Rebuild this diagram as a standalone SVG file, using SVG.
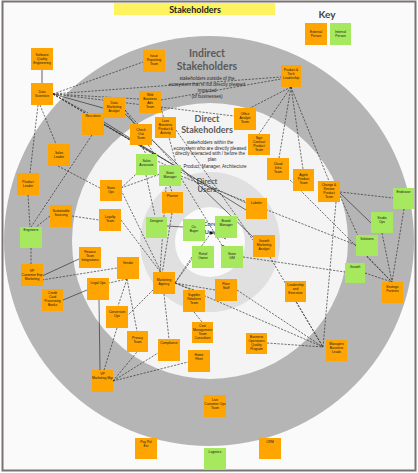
<svg xmlns="http://www.w3.org/2000/svg" width="418" height="473" viewBox="0 0 418 473">
<style>
.o{fill:#ffa502}
.g{fill:#a6e85e}
.t{font-family:'Liberation Sans',Arial,sans-serif;font-size:3.3px;text-anchor:middle;fill:#151515}
.d{stroke:#2a2a2a;stroke-width:0.65;stroke-dasharray:2.2 1.3;fill:none}
.s{stroke:#2a2a2a;stroke-width:0.65;fill:none}
.h{font-family:'Lato','Liberation Sans',sans-serif;font-weight:bold;fill:#5a5a5a;text-anchor:middle}
.p{font-family:'Liberation Sans',Arial,sans-serif;font-size:4.6px;fill:#2a2a2a;text-anchor:middle}
</style>
<!-- canvas and frame -->
<rect x="2.5" y="1.5" width="413" height="469" fill="#fafafa" stroke="#7b7373" stroke-width="2"/>
<!-- stakeholder rings -->
<circle cx="209" cy="241" r="205" fill="#b5b5b5"/>
<circle cx="210" cy="241" r="138" fill="#f4f4f4"/>
<circle cx="210" cy="242" r="70" fill="#e0e0e0"/>
<circle cx="210" cy="242" r="35" fill="#fafafa"/>
<!-- title and key -->
<rect x="114" y="3" width="161" height="12" fill="#fdf35e"/>
<text x="195" y="12.5" font-family="'Lato','Liberation Sans',sans-serif" font-weight="bold" font-size="9" fill="#222" text-anchor="middle">Stakeholders</text>
<text x="327" y="18" class="h" font-size="10" style="fill:#444">Key</text>
<g id="key-external"><rect class="o" x="305" y="23" width="22" height="22"/><text class="t"><tspan x="316" y="33">External</tspan><tspan x="316" y="37">Person</tspan></text></g>
<g id="key-internal"><rect class="g" x="330" y="23" width="21" height="22"/><text class="t"><tspan x="340.5" y="33">Internal</tspan><tspan x="340.5" y="37">Person</tspan></text></g>
<!-- ring labels -->
<text class="h" font-size="10.5" x="207" y="57">Indirect</text>
<text class="h" font-size="10.5" x="207" y="70">Stakeholders</text>
<text class="p"><tspan x="207" y="80">stakeholders outside of the</tspan><tspan x="207" y="86">ecosystem that is not directly pleased</tspan><tspan x="207" y="92">impacted</tspan><tspan x="207" y="98">(of businesses)</tspan></text>
<text class="h" font-size="9" x="207" y="122">Direct</text>
<text class="h" font-size="9" x="207" y="133">Stakeholders</text>
<text class="p"><tspan x="210" y="144">stakeholders within the</tspan><tspan x="210" y="149.5">ecosystem who are directly pleased</tspan><tspan x="210" y="155">directly interacted with / before the</tspan><tspan x="212" y="161">plan</tspan><tspan x="215" y="168">Product, Manager, Architecture</tspan></text>
<text class="h" font-size="7.5" x="207" y="184">Direct</text>
<text class="h" font-size="7.5" x="207" y="192">Users</text>
<text class="h" font-size="6" x="210" y="226">Core</text>
<text class="h" font-size="6" x="212" y="234">Users</text>
<!-- connectors -->
<g id="connectors">
<line x1="42" y1="70" x2="42" y2="83" stroke="#7a7a7a" stroke-width="1.2"/>
<path class="s" d="M53,94 L103,108 M42,276 L79,259 M63,300 L87,290 M99,300 L100,370 M340,193 L371,223 M167,226 L183,227 M104,122 L246,210 M125,114 L253,237"/>
<path class="d" d="M53,94 L143,62 M53,94 L139,99 M53,94 L234,116 M53,94 L281,77 M53,94 L88,113 M40,105 L56,144 M38,105 L30,173 M53,94 L155,155 M53,94 L177,167
M161,100 L281,79 M161,108 L177,167 M125,110 L155,155 M125,110 L177,167
M92,135 L31,227 M103,124 L155,155 M103,124 L177,167
M58,166 L100,188 M28,195 L30,227 M50,216 L36,227 M72,216 L99,220
M121,188 L155,157 M121,188 L177,168 M121,190 L162,274 M121,220 L162,274
M31,248 L31,264 M42,280 L117,268
M127,279 L109,283 M127,279 L118,306 M127,279 L137,331 M117,328 L104,370
M113,381 L137,352 M113,381 L158,353 M113,381 L188,362
M141,145 L146,154 M146,175 L155,216 M170,186 L172,192 M172,213 L162,274 M166,187 L160,272
M192,257 L175,283 M215,290 L175,283 M194,290 L175,283 M194,312 L202,322 M175,283 L211,233 M211,233 L226,239
M175,283 L323,347 M153,290 L128,315 M164,294 L169,339
M237,290 L323,347 M267,343 L323,347 M296,302 L323,347 M270,257 L323,347
M243,257 L345,272 M181,178 L223,247 M155,160 L246,203 M181,176 L356,245 M176,130 L253,240
M291,87 L250,108 M291,87 L259,134 M291,87 L279,158 M291,87 L303,169 M291,87 L329,181
M340,192 L393,198 M340,196 L358,236 M336,202 L323,347
M404,209 L392,282 M382,233 L392,282 M367,256 L392,282 M365,273 L392,282 M290,180 L392,282"/>
<circle cx="155" cy="155" r="1.8" fill="#111"/>
<circle cx="177" cy="167" r="1.8" fill="#111"/>
<circle cx="162" cy="274" r="1.8" fill="#111"/>
<circle cx="223" cy="247" r="1.8" fill="#111"/>
<circle cx="211" cy="233" r="1.4" fill="#111"/>
</g>
<!-- stakeholder nodes -->
<g id="nodes">
<g id="n1"><rect class="o" x="31" y="48" width="22" height="22"/><text class="t"><tspan x="42" y="56">Software</tspan><tspan x="42" y="60">Quality</tspan><tspan x="42" y="64">Engineering</tspan></text></g>
<g id="n2"><rect class="o" x="31" y="83" width="22" height="22"/><text class="t"><tspan x="42" y="93">Data</tspan><tspan x="42" y="97">Scientists</tspan></text></g>
<g id="n3"><rect class="o" x="103" y="97" width="22" height="21"/><text class="t"><tspan x="114" y="104">Data</tspan><tspan x="114" y="108">Marketing</tspan><tspan x="114" y="112">Analyst</tspan></text></g>
<g id="n4"><rect class="o" x="82" y="113" width="22" height="22"/><text class="t"><tspan x="93" y="117">Recruiters</tspan></text></g>
<g id="n5"><rect class="o" x="48" y="144" width="22" height="22"/><text class="t"><tspan x="59" y="154">Sales</tspan><tspan x="59" y="158">Leader</tspan></text></g>
<g id="n6"><rect class="o" x="17" y="173" width="22" height="22"/><text class="t"><tspan x="28" y="183">Product</tspan><tspan x="28" y="187">Leader</tspan></text></g>
<g id="n7"><rect class="o" x="100" y="180" width="22" height="21"/><text class="t"><tspan x="111" y="189">Store</tspan><tspan x="111" y="193">Ops</tspan></text></g>
<g id="n8"><rect class="o" x="50" y="205" width="22" height="22"/><text class="t"><tspan x="61" y="212">Sustainable</tspan><tspan x="61" y="216">Sourcing</tspan></text></g>
<g id="n9"><rect class="o" x="99" y="209" width="22" height="22"/><text class="t"><tspan x="110" y="218">Loyalty</tspan><tspan x="110" y="222">Team</tspan></text></g>
<g id="n10"><rect class="g" x="20" y="227" width="22" height="21"/><text class="t"><tspan x="31" y="231">Engineers</tspan></text></g>
<g id="n11"><rect class="o" x="21" y="264" width="22" height="22"/><text class="t"><tspan x="32" y="272">VP</tspan><tspan x="32" y="276">Customer Exp</tspan><tspan x="32" y="280">Marketing</tspan></text></g>
<g id="n12"><rect class="o" x="79" y="247" width="22" height="21"/><text class="t"><tspan x="90" y="253">Finance</tspan><tspan x="90" y="257">Team</tspan><tspan x="90" y="261">Integrations</tspan></text></g>
<g id="n13"><rect class="o" x="117" y="257" width="22" height="22"/><text class="t"><tspan x="128" y="264">Vendor</tspan></text></g>
<g id="n14"><rect class="o" x="87" y="278" width="22" height="22"/><text class="t"><tspan x="98" y="284">Legal Ops</tspan></text></g>
<g id="n15"><rect class="o" x="42" y="289" width="21" height="22"/><text class="t"><tspan x="52.5" y="294">Credit</tspan><tspan x="52.5" y="298">Card</tspan><tspan x="52.5" y="302">Processing</tspan><tspan x="52.5" y="306">Banks</tspan></text></g>
<g id="n16"><rect class="o" x="106" y="306" width="22" height="22"/><text class="t"><tspan x="117" y="313">Conversion</tspan><tspan x="117" y="317">Ops</tspan></text></g>
<g id="n17"><rect class="o" x="127" y="331" width="21" height="21"/><text class="t"><tspan x="137.5" y="339">Privacy</tspan><tspan x="137.5" y="343">Team</tspan></text></g>
<g id="n18"><rect class="o" x="92" y="370" width="21" height="22"/><text class="t"><tspan x="102.5" y="375">VP</tspan><tspan x="102.5" y="379">Marketing Mgr</tspan></text></g>
<g id="n19"><rect class="o" x="135" y="438" width="22" height="21"/><text class="t"><tspan x="146" y="443">Pay Pal</tspan><tspan x="146" y="447">Ext</tspan></text></g>
<g id="n20"><rect class="g" x="204" y="448" width="22" height="22"/><text class="t"><tspan x="215" y="453">Logistics</tspan></text></g>
<g id="n21"><rect class="o" x="259" y="438" width="22" height="21"/><text class="t"><tspan x="270" y="443">CRM</tspan></text></g>
<g id="n22"><rect class="o" x="204" y="395" width="22" height="22"/><text class="t"><tspan x="215" y="401">Live</tspan><tspan x="215" y="405">Customer Ops</tspan><tspan x="215" y="409">Team</tspan></text></g>
<g id="n23"><rect class="o" x="188" y="350" width="22" height="22"/><text class="t"><tspan x="199" y="356">Home</tspan><tspan x="199" y="360">Fleet</tspan></text></g>
<g id="n24"><rect class="o" x="158" y="339" width="22" height="22"/><text class="t"><tspan x="169" y="344">Compliance</tspan></text></g>
<g id="n25"><rect class="o" x="192" y="322" width="21" height="21"/><text class="t"><tspan x="202.5" y="327">Cost</tspan><tspan x="202.5" y="331">Management</tspan><tspan x="202.5" y="335">Team</tspan><tspan x="202.5" y="339">Consultant</tspan></text></g>
<g id="n26"><rect class="o" x="183" y="290" width="22" height="22"/><text class="t"><tspan x="194" y="296">Supplier</tspan><tspan x="194" y="300">Relations</tspan><tspan x="194" y="304">Team</tspan></text></g>
<g id="n27"><rect class="o" x="215" y="279" width="22" height="22"/><text class="t"><tspan x="226" y="285">Floor</tspan><tspan x="226" y="289">Staff</tspan></text></g>
<g id="n28"><rect class="o" x="153" y="272" width="22" height="22"/><text class="t"><tspan x="164" y="281">Marketing</tspan><tspan x="164" y="285">Agency</tspan></text></g>
<g id="n29"><rect class="g" x="192" y="246" width="22" height="22"/><text class="t"><tspan x="203" y="255">Retail</tspan><tspan x="203" y="259">Owner</tspan></text></g>
<g id="n30"><rect class="g" x="221" y="246" width="22" height="22"/><text class="t"><tspan x="232" y="255">Store</tspan><tspan x="232" y="259">GM</tspan></text></g>
<g id="n31"><rect class="o" x="253" y="235" width="22" height="22"/><text class="t"><tspan x="264" y="242">Growth</tspan><tspan x="264" y="246">Marketing</tspan><tspan x="264" y="250">Analyst</tspan></text></g>
<g id="n32"><rect class="o" x="246" y="333" width="21" height="21"/><text class="t"><tspan x="256.5" y="338">Business</tspan><tspan x="256.5" y="342">Operations</tspan><tspan x="256.5" y="346">Quality</tspan><tspan x="256.5" y="350">Program</tspan></text></g>
<g id="n33"><rect class="o" x="382" y="282" width="21" height="21"/><text class="t"><tspan x="392.5" y="288">Strategic</tspan><tspan x="392.5" y="292">Partners</tspan></text></g>
<g id="n34"><rect class="g" x="345" y="263" width="20" height="20"/><text class="t"><tspan x="355" y="268">Growth</tspan></text></g>
<g id="n35"><rect class="g" x="356" y="235" width="22" height="21"/><text class="t"><tspan x="367" y="240">Solutions</tspan></text></g>
<g id="n36"><rect class="o" x="285" y="281" width="21" height="21"/><text class="t"><tspan x="295.5" y="286">Leadership</tspan><tspan x="295.5" y="290">and</tspan><tspan x="295.5" y="294">Executive</tspan></text></g>
<g id="n37"><rect class="o" x="326" y="340" width="21" height="21"/><text class="t"><tspan x="336.5" y="345">Managers</tspan><tspan x="336.5" y="349">Business</tspan><tspan x="336.5" y="353">Leads</tspan></text></g>
<g id="n38"><rect class="g" x="393" y="188" width="21" height="21"/><text class="t"><tspan x="403.5" y="193">Endeavor</tspan></text></g>
<g id="n39"><rect class="g" x="371" y="212" width="22" height="21"/><text class="t"><tspan x="382" y="219">Studio</tspan><tspan x="382" y="223">Ops</tspan></text></g>
<g id="n40"><rect class="o" x="318" y="181" width="22" height="21"/><text class="t"><tspan x="329" y="186">Change &amp;</tspan><tspan x="329" y="190">Review</tspan><tspan x="329" y="194">Product</tspan><tspan x="329" y="198">Team</tspan></text></g>
<g id="n41"><rect class="o" x="293" y="169" width="21" height="22"/><text class="t"><tspan x="303.5" y="176">Apple</tspan><tspan x="303.5" y="180">Product</tspan><tspan x="303.5" y="184">Team</tspan></text></g>
<g id="n42"><rect class="o" x="267" y="158" width="22" height="22"/><text class="t"><tspan x="278" y="165">Cloud</tspan><tspan x="278" y="169">Infra</tspan><tspan x="278" y="173">Team</tspan></text></g>
<g id="n43"><rect class="o" x="248" y="134" width="22" height="21"/><text class="t"><tspan x="259" y="139">Sign</tspan><tspan x="259" y="143">Contract</tspan><tspan x="259" y="147">Product</tspan><tspan x="259" y="151">Team</tspan></text></g>
<g id="n44"><rect class="o" x="234" y="108" width="22" height="22"/><text class="t"><tspan x="245" y="115">Office</tspan><tspan x="245" y="119">Analyst</tspan><tspan x="245" y="123">Team</tspan></text></g>
<g id="n45"><rect class="o" x="143" y="50" width="22" height="22"/><text class="t"><tspan x="154" y="57">Issue</tspan><tspan x="154" y="61">Reporting</tspan><tspan x="154" y="65">Team</tspan></text></g>
<g id="n46"><rect class="o" x="139" y="91" width="22" height="22"/><text class="t"><tspan x="150" y="96">Web</tspan><tspan x="150" y="100">Business</tspan><tspan x="150" y="104">Ads</tspan><tspan x="150" y="108">Team</tspan></text></g>
<g id="n47"><rect class="o" x="155" y="117" width="21" height="21"/><text class="t"><tspan x="165.5" y="122">Loss</tspan><tspan x="165.5" y="126">Business</tspan><tspan x="165.5" y="130">Product &amp;</tspan><tspan x="165.5" y="134">Activity</tspan></text></g>
<g id="n48"><rect class="o" x="130" y="124" width="22" height="21"/><text class="t"><tspan x="141" y="131">Check</tspan><tspan x="141" y="135">Out</tspan><tspan x="141" y="139">Team</tspan></text></g>
<g id="n49"><rect class="g" x="136" y="154" width="21" height="21"/><text class="t"><tspan x="146.5" y="162">Sales</tspan><tspan x="146.5" y="166">Associate</tspan></text></g>
<g id="n50"><rect class="g" x="159" y="165" width="22" height="21"/><text class="t"><tspan x="170" y="174">Store</tspan><tspan x="170" y="178">Manager</tspan></text></g>
<g id="n51"><rect class="o" x="162" y="192" width="21" height="21"/><text class="t"><tspan x="172.5" y="197">Planner</tspan></text></g>
<g id="n52"><rect class="g" x="146" y="217" width="21" height="21"/><text class="t"><tspan x="156.5" y="222">Designer</tspan></text></g>
<g id="n53"><rect class="g" x="183" y="219" width="22" height="22"/><text class="t"><tspan x="194" y="228">Co.</tspan><tspan x="194" y="232">Buyer</tspan></text></g>
<g id="n54"><rect class="g" x="215" y="216" width="22" height="22"/><text class="t"><tspan x="226" y="222">Brand</tspan><tspan x="226" y="226">Manager</tspan></text></g>
<g id="n55"><rect class="o" x="246" y="198" width="21" height="21"/><text class="t"><tspan x="256.5" y="204">Labeler</tspan></text></g>
<g id="n57"><rect class="o" x="281" y="65" width="20" height="22"/><text class="t"><tspan x="291" y="71">Product &amp;</tspan><tspan x="291" y="75">Tech</tspan><tspan x="291" y="79">Leadership</tspan></text></g>
</g>
</svg>
